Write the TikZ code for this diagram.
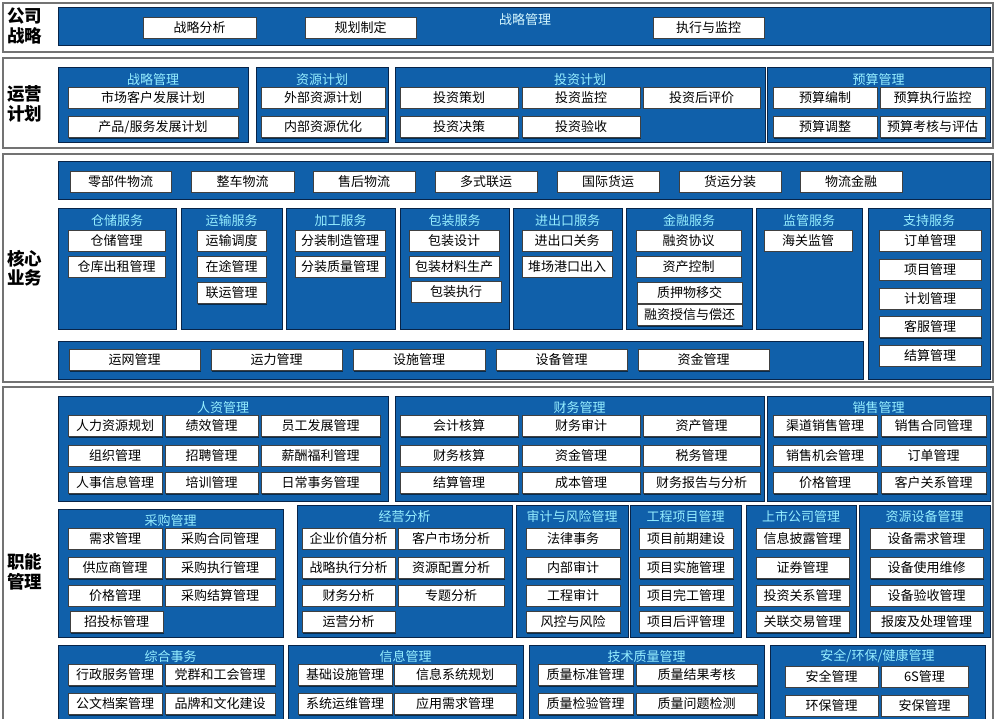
\documentclass[tikz,border=0pt]{standalone}
\usepackage{fontspec}
\setmainfont{Noto Sans CJK SC}
\usepackage{xcolor}
\usetikzlibrary{shadows}
\definecolor{panelblue}{RGB}{16,96,170}
\definecolor{edgenavy}{RGB}{8,36,72}
\definecolor{titlecyan}{RGB}{150,238,255}
\tikzset{
    band/.style={draw=black!55, line width=1.6pt, fill=white},
    bandlabel/.style={font=\fontsize{17.5}{19.5}\selectfont\bfseries, align=center, inner sep=0pt},
    panel/.style={draw=edgenavy, line width=1pt, fill=panelblue, inner sep=0pt},
    ptitle/.style={font=\fontsize{13}{15}\selectfont, text=titlecyan, inner sep=0pt},
    item/.style={draw=black!75, line width=0.8pt, fill=white, minimum height=21pt, inner sep=0pt,
        font=\fontsize{13}{15}\selectfont,
        drop shadow={shadow xshift=1.2pt, shadow yshift=-1.2pt, fill=black, opacity=0.55}}
}
% panel from corners, title under its top edge, item box centred on a row
\newcommand{\pnl}[5]{\node (#1) [panel, minimum width={#3-#2}, minimum height={#5-#4}] at ({(#2+#3)/2},{(#4+#5)/2}) {};}
\newcommand{\ttl}[2]{\node (#1t) [ptitle] at ([yshift=-12pt]#1.north) {#2};}
\newcommand{\itm}[5]{\node (#1) [item, minimum width={#3-#2}] at ({(#2+#3)/2},#4) {#5};}

\begin{document}
\begin{tikzpicture}[x=1pt, y=-1pt]
    \fill[white] (0,0) rectangle (996,719);
    \useasboundingbox (0,0) rectangle (996,719);

    % bands
    \draw[band] (3,3) rectangle (993,52);
    \draw[band] (3,58) rectangle (993,148);
    \draw[band] (3,154) rectangle (993,382);
    \draw[band] (3,387) rectangle (993,730);
    \node (lb1) [bandlabel] at (25,26) {公司\\战略};
    \node (lb2) [bandlabel] at (25,104) {运营\\计划};
    \node (lb3) [bandlabel] at (25,268) {核心\\业务};
    \node (lb4) [bandlabel] at (25,572) {职能\\管理};

    % 公司战略
    \pnl{zl}{58}{990}{8}{46}
    \node (zlt) [ptitle, text=titlecyan!40!white] at (525,20) {战略管理};
    \itm{zl1}{143}{256}{27.5}{战略分析}
    \itm{zl2}{305}{416}{27.5}{规划制定}
    \itm{zl3}{653}{764}{27.5}{执行与监控}

    % 运营计划
    \pnl{yA}{58}{248}{68}{143} \ttl{yA}{战略管理}
    \itm{yA1}{68}{238}{97.5}{市场客户发展计划}
    \itm{yA2}{68}{238}{127}{产品/服务发展计划}
    \pnl{yB}{256}{388}{68}{143} \ttl{yB}{资源计划}
    \itm{yB1}{261}{385}{97.5}{外部资源计划}
    \itm{yB2}{261}{385}{127}{内部资源优化}
    \pnl{yC}{395}{765}{68}{143} \ttl{yC}{投资计划}
    \itm{yC1}{400}{518}{97.5}{投资策划}
    \itm{yC2}{522}{640}{97.5}{投资监控}
    \itm{yC3}{643}{760}{97.5}{投资后评价}
    \itm{yC4}{400}{518}{127}{投资决策}
    \itm{yC5}{522}{640}{127}{投资验收}
    \pnl{yD}{767}{990}{68}{143} \ttl{yD}{预算管理}
    \itm{yD1}{773}{877}{97.5}{预算编制}
    \itm{yD2}{880}{985}{97.5}{预算执行监控}
    \itm{yD3}{773}{877}{127}{预算调整}
    \itm{yD4}{880}{985}{127}{预算考核与评估}

    % 核心业务
    \pnl{hW}{58}{990}{162}{200}
    \itm{hW1}{70}{171}{181.5}{零部件物流}
    \itm{hW2}{191}{294}{181.5}{整车物流}
    \itm{hW3}{313}{415}{181.5}{售后物流}
    \itm{hW4}{435}{537}{181.5}{多式联运}
    \itm{hW5}{557}{659}{181.5}{国际货运}
    \itm{hW6}{679}{781}{181.5}{货运分装}
    \itm{hW7}{800}{902}{181.5}{物流金融}
    \pnl{hA}{58}{176}{209}{330} \ttl{hA}{仓储服务}
    \itm{hA1}{68}{165}{240.5}{仓储管理}
    \itm{hA2}{68}{165}{266.5}{仓库出租管理}
    \pnl{hB}{181}{282}{209}{330} \ttl{hB}{运输服务}
    \itm{hB1}{197}{266}{240.5}{运输调度}
    \itm{hB2}{197}{266}{266.5}{在途管理}
    \itm{hB3}{197}{266}{293}{联运管理}
    \pnl{hC}{286}{395}{209}{330} \ttl{hC}{加工服务}
    \itm{hC1}{295}{385}{240.5}{分装制造管理}
    \itm{hC2}{295}{385}{266.5}{分装质量管理}
    \pnl{hD}{400}{509}{209}{330} \ttl{hD}{包装服务}
    \itm{hD1}{409}{499}{240.5}{包装设计}
    \itm{hD2}{409}{499}{266.5}{包装材料生产}
    \itm{hD3}{411}{501}{291.5}{包装执行}
    \pnl{hE}{513}{622}{209}{330} \ttl{hE}{进出口服务}
    \itm{hE1}{522}{612}{240.5}{进出口关务}
    \itm{hE2}{522}{612}{266.5}{堆场港口出入}
    \pnl{hF}{626}{752}{209}{330} \ttl{hF}{金融服务}
    \itm{hF1}{636}{741}{240.5}{融资协议}
    \itm{hF2}{636}{741}{266.5}{资产控制}
    \itm{hF3}{637}{742}{292.5}{质押物移交}
    \itm{hF4}{637}{742}{315}{融资授信与偿还}
    \pnl{hG}{756}{862}{209}{330} \ttl{hG}{监管服务}
    \itm{hG1}{764}{852}{240.5}{海关监管}
    \pnl{hH}{868}{990}{209}{379} \ttl{hH}{支持服务}
    \itm{hH1}{879}{981}{240.5}{订单管理}
    \itm{hH2}{879}{981}{269.5}{项目管理}
    \itm{hH3}{879}{981}{298.5}{计划管理}
    \itm{hH4}{879}{981}{327}{客服管理}
    \itm{hH5}{879}{981}{355.5}{结算管理}
    \pnl{hX}{58}{863}{341}{379}
    \itm{hX1}{69}{200}{360}{运网管理}
    \itm{hX2}{211}{342}{360}{运力管理}
    \itm{hX3}{353}{485}{360}{设施管理}
    \itm{hX4}{496}{627}{360}{设备管理}
    \itm{hX5}{638}{769}{360}{资金管理}

    % 职能管理, first row
    \pnl{fA}{58}{388}{396}{501} \ttl{fA}{人资管理}
    \itm{fA1}{68}{162}{426}{人力资源规划}
    \itm{fA2}{165}{258}{426}{绩效管理}
    \itm{fA3}{261}{380}{426}{员工发展管理}
    \itm{fA4}{68}{162}{455.5}{组织管理}
    \itm{fA5}{165}{258}{455.5}{招聘管理}
    \itm{fA6}{261}{380}{455.5}{薪酬福利管理}
    \itm{fA7}{68}{162}{483}{人事信息管理}
    \itm{fA8}{165}{258}{483}{培训管理}
    \itm{fA9}{261}{380}{483}{日常事务管理}
    \pnl{fB}{395}{764}{396}{501} \ttl{fB}{财务管理}
    \itm{fB1}{400}{518}{426}{会计核算}
    \itm{fB2}{522}{640}{426}{财务审计}
    \itm{fB3}{643}{760}{426}{资产管理}
    \itm{fB4}{400}{518}{455.5}{财务核算}
    \itm{fB5}{522}{640}{455.5}{资金管理}
    \itm{fB6}{643}{760}{455.5}{税务管理}
    \itm{fB7}{400}{518}{483}{结算管理}
    \itm{fB8}{522}{640}{483}{成本管理}
    \itm{fB9}{643}{760}{483}{财务报告与分析}
    \pnl{fC}{767}{990}{396}{501} \ttl{fC}{销售管理}
    \itm{fC1}{773}{877}{426}{渠道销售管理}
    \itm{fC2}{881}{986}{426}{销售合同管理}
    \itm{fC3}{773}{877}{455.5}{销售机会管理}
    \itm{fC4}{881}{986}{455.5}{订单管理}
    \itm{fC5}{773}{877}{483}{价格管理}
    \itm{fC6}{881}{986}{483}{客户关系管理}

    % 职能管理, second row
    \pnl{fD}{58}{283}{509}{637} \ttl{fD}{采购管理}
    \itm{fD1}{68}{162}{538.5}{需求管理}
    \itm{fD2}{165}{275}{538.5}{采购合同管理}
    \itm{fD3}{68}{162}{568}{供应商管理}
    \itm{fD4}{165}{275}{568}{采购执行管理}
    \itm{fD5}{68}{162}{595.5}{价格管理}
    \itm{fD6}{165}{275}{595.5}{采购结算管理}
    \itm{fD7}{70}{163}{622}{招投标管理}
    \pnl{fE}{297}{512}{505}{637} \ttl{fE}{经营分析}
    \itm{fE1}{302}{395}{538.5}{企业价值分析}
    \itm{fE2}{398}{504}{538.5}{客户市场分析}
    \itm{fE3}{302}{395}{568}{战略执行分析}
    \itm{fE4}{398}{504}{568}{资源配置分析}
    \itm{fE5}{302}{395}{595.5}{财务分析}
    \itm{fE6}{398}{504}{595.5}{专题分析}
    \itm{fE7}{302}{395}{622}{运营分析}
    \pnl{fF}{516}{628}{505}{637} \ttl{fF}{审计与风险管理}
    \itm{fF1}{526}{620}{538.5}{法律事务}
    \itm{fF2}{526}{620}{568}{内部审计}
    \itm{fF3}{526}{620}{595.5}{工程审计}
    \itm{fF4}{526}{620}{622}{风控与风险}
    \pnl{fG}{630}{741}{505}{637} \ttl{fG}{工程项目管理}
    \itm{fG1}{639}{733}{538.5}{项目前期建设}
    \itm{fG2}{639}{733}{568}{项目实施管理}
    \itm{fG3}{639}{733}{595.5}{项目完工管理}
    \itm{fG4}{639}{733}{622}{项目后评管理}
    \pnl{fH}{746}{856}{505}{637} \ttl{fH}{上市公司管理}
    \itm{fH1}{756}{849}{538.5}{信息披露管理}
    \itm{fH2}{756}{849}{568}{证券管理}
    \itm{fH3}{756}{849}{595.5}{投资关系管理}
    \itm{fH4}{756}{849}{622}{关联交易管理}
    \pnl{fI}{859}{990}{505}{637} \ttl{fI}{资源设备管理}
    \itm{fI1}{870}{983}{538.5}{设备需求管理}
    \itm{fI2}{870}{983}{568}{设备使用维修}
    \itm{fI3}{870}{983}{595.5}{设备验收管理}
    \itm{fI4}{870}{983}{622}{报废及处理管理}

    % 职能管理, third row
    \pnl{fJ}{58}{283}{645}{730} \ttl{fJ}{综合事务}
    \itm{fJ1}{68}{162}{675}{行政服务管理}
    \itm{fJ2}{165}{275}{675}{党群和工会管理}
    \itm{fJ3}{68}{162}{704}{公文档案管理}
    \itm{fJ4}{165}{275}{704}{品牌和文化建设}
    \pnl{fK}{288}{523}{645}{730} \ttl{fK}{信息管理}
    \itm{fK1}{298}{392}{675}{基础设施管理}
    \itm{fK2}{394}{516}{675}{信息系统规划}
    \itm{fK3}{298}{392}{704}{系统运维管理}
    \itm{fK4}{394}{516}{704}{应用需求管理}
    \pnl{fL}{529}{764}{645}{730} \ttl{fL}{技术质量管理}
    \itm{fL1}{538}{633}{675}{质量标准管理}
    \itm{fL2}{636}{757}{675}{质量结果考核}
    \itm{fL3}{538}{633}{704}{质量检验管理}
    \itm{fL4}{636}{757}{704}{质量问题检测}
    \pnl{fM}{770}{985}{645}{730} \ttl{fM}{安全/环保/健康管理}
    \itm{fM1}{785}{878}{676.5}{安全管理}
    \itm{fM2}{881}{968}{676.5}{6S管理}
    \itm{fM3}{785}{878}{705.5}{环保管理}
    \itm{fM4}{881}{968}{705.5}{安保管理}
\end{tikzpicture}
\end{document}
